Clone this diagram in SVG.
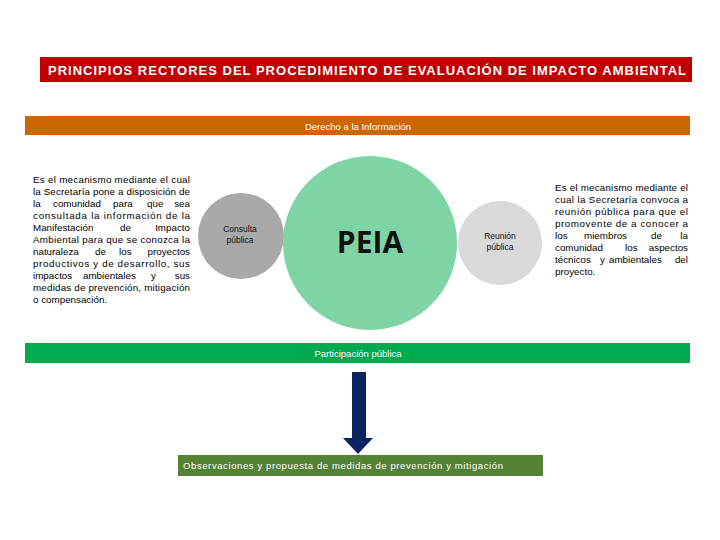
<svg xmlns="http://www.w3.org/2000/svg" width="720" height="540" viewBox="0 0 720 540">
<style>
.bar{font-family:"Liberation Sans",Arial,sans-serif;fill:#ffffff;}
.para{font-family:"Liberation Sans",Arial,sans-serif;font-size:9.8px;fill:#000;}
.e{text-anchor:end;}
.small{font-family:"Liberation Sans",Arial,sans-serif;font-size:8.5px;fill:#111;text-anchor:middle;}
</style>
<rect width="720" height="540" fill="#fff"/>
<g id="title">
<rect x="40" y="57" width="652" height="25" fill="#C00000"/>
<text class="bar" x="48" y="75" font-size="13" font-weight="bold" textLength="638" lengthAdjust="spacing">PRINCIPIOS RECTORES DEL PROCEDIMIENTO DE EVALUACIÓN DE IMPACTO AMBIENTAL</text>
</g>
<g id="derecho">
<rect x="25" y="116" width="665" height="19" fill="#CC6600"/>
<text class="bar" x="358" y="130" font-size="9.5" text-anchor="middle" fill="#FFF8E0">Derecho a la Información</text>
</g>
<g id="left-text" class="para">
<text x="33" y="183" textLength="157" lengthAdjust="spacing">Es el mecanismo mediante el cual</text>
<text x="33" y="195" textLength="157" lengthAdjust="spacing">la Secretaría pone a disposición de</text>
<text y="207"><tspan x="33">la</tspan><tspan x="53">comunidad</tspan><tspan x="113">para</tspan><tspan x="147">que</tspan></text>
<text class="e" x="190" y="207">sea</text>
<text x="33" y="219" textLength="157" lengthAdjust="spacing">consultada la información de la</text>
<text y="231"><tspan x="33">Manifestación</tspan><tspan x="120">de</tspan></text>
<text class="e" x="190" y="231">Impacto</text>
<text x="33" y="243" textLength="157" lengthAdjust="spacing">Ambiental para que se conozca la</text>
<text y="255"><tspan x="33">naturaleza</tspan><tspan x="95">de</tspan><tspan x="119">los</tspan></text>
<text class="e" x="190" y="255">proyectos</text>
<text x="33" y="267" textLength="157" lengthAdjust="spacing">productivos y de desarrollo, sus</text>
<text y="279"><tspan x="33">impactos</tspan><tspan x="83">ambientales</tspan><tspan x="151">y</tspan></text>
<text class="e" x="190" y="279">sus</text>
<text x="33" y="291" textLength="157" lengthAdjust="spacing">medidas de prevención, mitigación</text>
<text x="33" y="303">o compensación.</text>
</g>
<g id="right-text" class="para">
<text x="555" y="191" textLength="133" lengthAdjust="spacing">Es el mecanismo mediante el</text>
<text x="555" y="203" textLength="133" lengthAdjust="spacing">cual la Secretaría convoca a</text>
<text x="555" y="215" textLength="133" lengthAdjust="spacing">reunión pública para que el</text>
<text x="555" y="227" textLength="133" lengthAdjust="spacing">promovente de a conocer a</text>
<text y="239"><tspan x="555">los</tspan><tspan x="584">miembros</tspan><tspan x="651">de</tspan></text>
<text class="e" x="688" y="239">la</text>
<text y="251"><tspan x="555">comunidad</tspan><tspan x="625">los</tspan></text>
<text class="e" x="688" y="251">aspectos</text>
<text y="263"><tspan x="555">técnicos</tspan><tspan x="600">y</tspan><tspan x="609">ambientales</tspan></text>
<text class="e" x="688" y="263">del</text>
<text x="555" y="275">proyecto.</text>
</g>
<g id="consulta">
<circle cx="241" cy="236" r="43" fill="#A9A9A9"/>
<text class="small" x="240" y="232">Consulta</text>
<text class="small" x="240" y="243">pública</text>
</g>
<g id="reunion">
<circle cx="500" cy="243" r="42" fill="#D9D9D9"/>
<text class="small" x="500" y="239">Reunión</text>
<text class="small" x="500" y="250">pública</text>
</g>
<g id="peia">
<circle cx="370" cy="243" r="87" fill="#7FD4A6"/>
<text x="370" y="253" font-family="'Open Sans','Liberation Sans',sans-serif" font-size="30" font-weight="bold" fill="#111" text-anchor="middle">PEIA</text>
</g>
<g id="participacion">
<rect x="25" y="343" width="665" height="20" fill="#00AA4F"/>
<text class="bar" x="358" y="357" font-size="9.5" text-anchor="middle">Participación pública</text>
</g>
<g id="connectors">
<polygon points="352,372 366,372 366,438 373,438 358,454 343,438 352,438" fill="#0B2461"/>
</g>
<g id="observaciones">
<rect x="178" y="455" width="365" height="21" fill="#548235"/>
<text class="bar" x="183" y="469" font-size="9.5" fill="#F2F2F2" textLength="320" lengthAdjust="spacing">Observaciones y propuesta de medidas de prevención y mitigación</text>
</g>
</svg>
